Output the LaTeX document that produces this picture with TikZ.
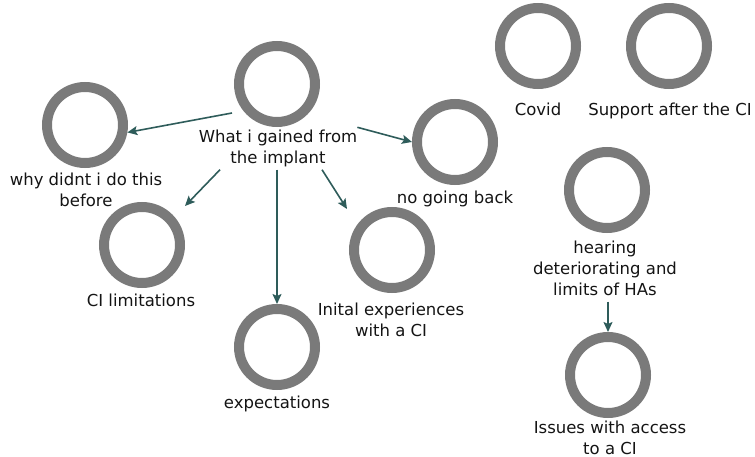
\documentclass[tikz,border=0pt]{standalone}
\usepackage{fontspec}
\setmainfont{DejaVu Sans}
\usetikzlibrary{arrows.meta,calc}
\definecolor{ringgray}{HTML}{7A7A7A}
\definecolor{linkteal}{HTML}{2E5C5A}
\definecolor{labelink}{HTML}{141414}
\begin{document}
\begin{tikzpicture}[x=1pt,y=-1pt,
  theme/.style={circle, draw=ringgray, line width=10pt, minimum size=76pt, inner sep=0pt},
  caption/.style={anchor=north, align=center, inner sep=0pt, text=labelink,
    font=\fontsize{16.5}{21}\selectfont},
  link/.style={draw=linkteal, line width=1.6pt,
    -{Stealth[length=10pt,width=9pt,inset=2pt]}}]
\useasboundingbox (0,0) rectangle (755,457);

% theme rings
\node[theme] (main)    at (277,84)  {};
\node[theme] (why)     at (85,125)  {};
\node[theme] (cilim)   at (142,245) {};
\node[theme] (expect)  at (277,347) {};
\node[theme] (inital)  at (392,250) {};
\node[theme] (nogo)    at (455,142) {};
\node[theme] (covid)   at (538,46)  {};
\node[theme] (support) at (669,46)  {};
\node[theme] (hearing) at (607,190) {};
\node[theme] (issues)  at (608,375) {};

% captions under the rings
\node[caption] (mainlbl)    at (278,127.3) {\strut What i gained from\\\strut the implant};
\node[caption] (whylbl)     at (86,170.3)  {\strut why didnt i do this\\\strut before};
\node[caption] (cilimlbl)   at (141,291.3) {\strut CI limitations};
\node[caption] (expectlbl)  at (277,393.3) {\strut expectations};
\node[caption] (initlbl)    at (391,300.3) {\strut Inital experiences\\\strut with a CI};
\node[caption] (nogolbl)    at (455,188.3) {\strut no going back};
\node[caption] (covidlbl)   at (538,100.3) {\strut Covid};
\node[caption] (supportlbl) at (670,100.3) {\strut Support after the CI};
\node[caption] (hearlbl)    at (605,238.3) {\strut hearing\\\strut deteriorating and\\\strut limits of HAs};
\node[caption] (issueslbl)  at (610,418.5) {\strut Issues with access\\to a CI};

% links
\draw[link] ([shift={(-45,29)}]main.center) -- (why.-10);
\draw[link] ([xshift=-58pt]mainlbl.south) -- ([shift={(43,-39)}]cilim.center);
\draw[link] (mainlbl.south -| expect.north) -- (expect.north);
\draw[link] ([xshift=44pt]mainlbl.south) -- ([shift={(-45,-41)}]inital.center);
\draw[link] (mainlbl.north east) -- (nogo.west);
\draw[link] (hearlbl.south -| issues.north) -- (issues.north);
\end{tikzpicture}
\end{document}
